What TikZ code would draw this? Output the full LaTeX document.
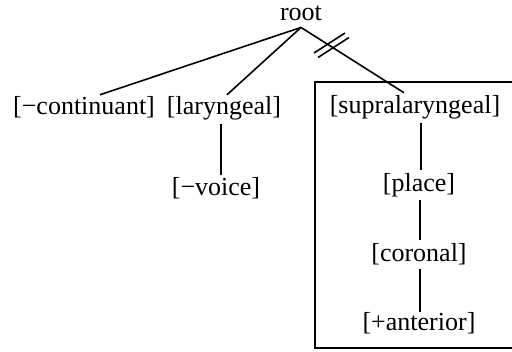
\documentclass[tikz,border=0pt]{standalone}
\usepackage{fontspec}
\setmainfont{Liberation Serif}
\usetikzlibrary{calc}
\tikzset{
  feat/.style={anchor=base, inner xsep=0pt, inner ysep=3pt, font=\fontsize{26}{31}\selectfont},
  branch/.style={line width=1.6pt},
  framebox/.style={line width=1.6pt}
}
\begin{document}
\begin{tikzpicture}[x=1pt,y=-1pt]
  \clip (0,0) rectangle (512,352);
  % feature nodes (positioned by baseline; y grows downwards)
  \node[feat] (root)  at (301,21)  {root};
  \node[feat] (cont)  at (84,115)  {[−continuant]};
  \node[feat] (lar)   at (224,115) {[laryngeal]};
  \node[feat] (voice) at (216,196) {[−voice]};
  \node[feat] (supra) at (415,114) {[supralaryngeal]};
  \node[feat] (place) at (419,192) {[place]};
  \node[feat] (cor)   at (419,262) {[coronal]};
  \node[feat] (ant)   at (419,331) {[+anterior]};
  % frame round the supralaryngeal subtree
  \draw[framebox] (540,82) -- (315,82) -- (315,348) -- (540,348);
  % association lines
  \draw[branch] ($(root.south)+(0,3)$) -- ($(cont.north)+(16,1)$);
  \draw[branch] ($(root.south)+(0,3)$) -- ($(lar.north)+(3,1)$);
  \draw[branch] ($(root.south)+(0,3)$) -- ($(supra.north)+(-11,0)$);
  \draw[branch] ($(lar.south)+(-3,0)$) -- ($(voice.north)+(5,0)$);
  \draw[branch] ($(supra.south)+(6,0)$) -- ($(place.north)+(2,-1)$);
  \draw[branch] ($(place.south)+(1,-1)$) -- ($(cor.north)+(1,-1)$);
  \draw[branch] ($(cor.south)+(1,0)$) -- ($(ant.north)+(1,2)$);
  % delinking mark
  \draw[branch] (314,53) -- (345,33);
  \draw[branch] (318,57.5) -- (349,37.5);
\end{tikzpicture}
\end{document}
